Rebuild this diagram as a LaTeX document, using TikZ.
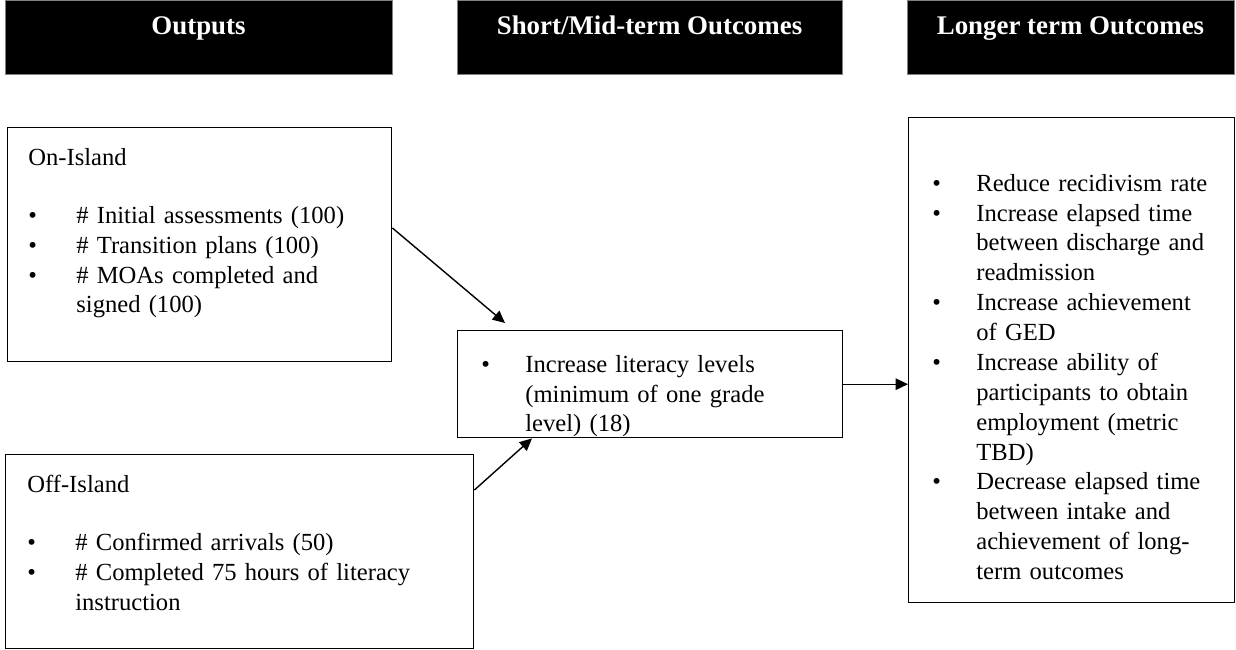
\documentclass[tikz,border=0pt]{standalone}
\usepackage{fontspec}
\setmainfont{Liberation Serif}
\usepackage{xcolor}
\usetikzlibrary{arrows.meta}
\definecolor{hdr}{RGB}{0, 0, 0}
\definecolor{rim}{RGB}{128, 128, 128}
\newlength{\bhang}
\setlength{\bhang}{0.88cm}
\newcommand{\bitem}[1]{\par\noindent\hangindent=\bhang\hangafter=1\makebox[\bhang][l]{\textbullet}\strut#1\par}

\tikzset{
  head/.style={draw=rim, fill=hdr, anchor=north west, minimum height=1.48cm, inner sep=0pt},
  headtxt/.style={anchor=base, text=white, font=\fontsize{15.3}{17}\selectfont\bfseries},
  box/.style={draw, line width=0.8pt, anchor=north west, inner sep=0pt},
  txt/.style={anchor=north west, inner sep=0pt, align=left, text width=#1, font=\fontsize{14}{17}\selectfont},
  link/.style={line width=0.8pt, -{Triangle[length=7pt,width=6.5pt]}}
}

\begin{document}
\begin{tikzpicture}
      \useasboundingbox (0, 0) rectangle (24.72, -13);
      % column heads
      \node[head, minimum width=7.74cm] (h1) at (0.1, 0) {};
      \node[head, minimum width=7.7cm] (h2) at (9.14, 0) {};
      \node[head, minimum width=6.54cm] (h3) at (18.14, 0) {};
      \node[headtxt] (t1) at (3.97, -0.7) {Outputs};
      \node[headtxt] (t2) at (12.99, -0.7) {Short/Mid-term Outcomes};
      \node[headtxt] (t3) at (21.41, -0.7) {Longer term Outcomes};
      % boxes
      \node[box, minimum width=7.68cm, minimum height=4.68cm] (on) at (0.14, -2.54) {};
      \node[box, minimum width=9.36cm, minimum height=3.88cm] (off) at (0.1, -9.08) {};
      \node[box, minimum width=7.7cm, minimum height=2.14cm] (mid) at (9.14, -6.6) {};
      \node[box, minimum width=6.52cm, minimum height=9.7cm] (long) at (18.16, -2.34) {};
      % texts
      \node[txt=7.1cm] (ontxt) at (0.56, -2.88) {\setlength{\bhang}{0.96cm}\strut On-Island\par\vspace{16pt}
        \bitem{\# Initial assessments (100)}
        \bitem{\# Transition plans (100)}
        \bitem{\# MOAs completed and\newline signed (100)}};
      \node[txt=8.8cm] (offtxt) at (0.54, -9.42) {\setlength{\bhang}{0.96cm}\strut Off-Island\par\vspace{16pt}
        \bitem{\# Confirmed arrivals (50)}
        \bitem{\# Completed 75 hours of literacy\newline instruction}};
      \node[txt=7.1cm] (midtxt) at (9.62, -6.84) {
        \bitem{Increase literacy levels\newline (minimum of one grade\newline level) (18)}};
      \node[txt=6cm] (longtxt) at (18.64, -3.22) {
        \bitem{Reduce recidivism rate}
        \bitem{Increase elapsed time\newline between discharge and\newline readmission}
        \bitem{Increase achievement\newline of GED}
        \bitem{Increase ability of\newline participants to obtain\newline employment (metric\newline TBD)}
        \bitem{Decrease elapsed time\newline between intake and\newline achievement of long-\newline term outcomes}};
      % arrows
      \draw[link] ([yshift=-2.02cm]on.north east) -- ([shift={(0.96, 0.14)}]mid.north west);
      \draw[link] ([yshift=-0.72cm]off.north east) -- ([xshift=1.5cm]mid.south west);
      \draw[link] (mid.east) -- (mid.east -| long.west);
    \end{tikzpicture}
\end{document}
